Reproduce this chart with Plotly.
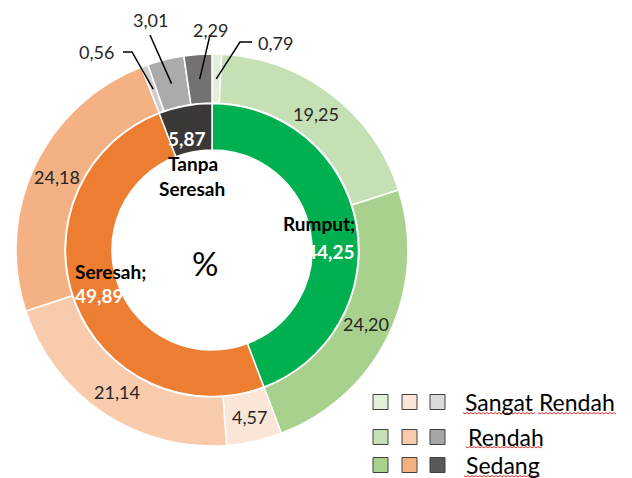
import plotly.graph_objects as go
import math

# ---- data ----
inner_labels = ["Rumput", "Seresah", "Tanpa Seresah"]
inner_values = [44.25, 49.89, 5.87]
inner_colors = ["#00B050", "#ED7D31", "#3B3838"]

outer_labels = ["Rumput - Sangat Rendah", "Rumput - Rendah", "Rumput - Sedang",
                "Seresah - Sangat Rendah", "Seresah - Rendah", "Seresah - Sedang",
                "Tanpa Seresah - Sangat Rendah", "Tanpa Seresah - Rendah", "Tanpa Seresah - Sedang"]
outer_values = [0.79, 19.25, 24.20, 4.57, 21.14, 24.18, 0.56, 3.01, 2.29]
outer_colors = ["#E2F0D9", "#C5E0B4", "#A9D18E",
                "#FBE5D6", "#F8CBAD", "#F4B183",
                "#D0CECE", "#AEAAAA", "#767171"]

legend_labels = ["Sangat Rendah", "Rendah", "Sedang"]
legend_colors = [["#E2F0D9", "#FBE5D6", "#D9D9D9"],
                 ["#C5E0B4", "#F8CBAD", "#A6A6A6"],
                 ["#A9D18E", "#F4B183", "#595959"]]

W, H = 632, 478
OFF = 8  # page body margin
CX, CY = 212, 250
R_OUT, R_MID, R_IN = 196, 146.5, 100

FONT = "Lato"


def px(x):
    return (x - OFF) / W


def py(y):
    return 1 - (y - OFF) / H


def fmt(v):
    return f"{v:.2f}".replace(".", ",")


fig = go.Figure()

fig.add_trace(go.Pie(
    values=outer_values, labels=outer_labels, sort=False, direction="clockwise",
    rotation=0, hole=(R_MID + 0.5) / R_OUT,
    marker=dict(colors=outer_colors, line=dict(color="white", width=1.5)),
    textinfo="none", hoverinfo="label+value",
    domain=dict(x=[px(CX - R_OUT), px(CX + R_OUT)], y=[py(CY + R_OUT), py(CY - R_OUT)]),
    showlegend=False,
))
fig.add_trace(go.Pie(
    values=inner_values, labels=inner_labels, sort=False, direction="clockwise",
    rotation=0, hole=R_IN / R_MID,
    marker=dict(colors=inner_colors, line=dict(color="white", width=1.5)),
    textinfo="none", hoverinfo="label+value",
    domain=dict(x=[px(CX - R_MID), px(CX + R_MID)], y=[py(CY + R_MID), py(CY - R_MID)]),
    showlegend=False,
))

annotations = []
shapes = []

# outer ring labels: mid-angle of each slice
total = sum(outer_values)
cum = 0
mids = []
for v in outer_values:
    mid = (cum + v / 2) / total * 2 * math.pi
    mids.append(mid)
    cum += v
r_lab = (R_OUT + R_MID) / 2


def polar(a, r):
    return CX + r * math.sin(a), CY - r * math.cos(a)


inside_idx = [1, 2, 3, 4, 5]
for i in inside_idx:
    x, y = polar(mids[i], r_lab)
    annotations.append(dict(x=px(x), y=py(y), text=fmt(outer_values[i]),
                            font=dict(family=FONT, size=18, color="#262626")))

# small slices with leader lines: (index, text centre, leader start, optional elbow)
callouts = [
    (0, (275, 43), [(252, 42), (240, 42)]),
    (6, (96, 52), [(123, 52), (132, 52)]),
    (7, (150, 20), [(150, 35)]),
    (8, (210, 30), [(210, 35)]),
]
for i, (tx, ty), pts in callouts:
    annotations.append(dict(x=px(tx), y=py(ty), text=fmt(outer_values[i]),
                            font=dict(family=FONT, size=18, color="#262626")))
    ex, ey = polar(mids[i], r_lab)
    allpts = pts + [(ex, ey)]
    path = "M " + " L ".join(f"{px(a)},{py(b)}" for a, b in allpts)
    shapes.append(dict(type="path", path=path, xref="paper", yref="paper",
                       line=dict(color="black", width=1.5)))

# inner labels
bold = dict(family=FONT, size=19, color="black")
wbold = dict(family=FONT, size=19, color="white")
annotations += [
    dict(x=px(357), y=py(223), text="<b>Rumput;</b>", xanchor="right", font=bold),
    dict(x=px(357), y=py(251), text=f"<b>{fmt(inner_values[0])}</b>", xanchor="right", font=wbold),
    dict(x=px(73), y=py(271), text="<b>Seresah;</b>", xanchor="left", font=bold),
    dict(x=px(73), y=py(295), text=f"<b>{fmt(inner_values[1])}</b>", xanchor="left", font=wbold),
    dict(x=px(208), y=py(139), text=f"<b>{fmt(inner_values[2])}</b>", xanchor="right", font=wbold),
    dict(x=px(193), y=py(163), text="<b>Tanpa</b>", font=bold),
    dict(x=px(192), y=py(188), text="<b>Seresah</b>", font=bold),
    dict(x=px(205), y=py(263), text="%", font=dict(family=FONT, size=33, color="black")),
]

# custom legend
row_y = [402, 437, 465]
col_x = [373, 402, 430]
sq = 15
text_x = [463, 466, 464]
for r, lab in enumerate(legend_labels):
    for c in range(3):
        x0 = col_x[c]
        y0 = row_y[r] - sq / 2
        shapes.append(dict(type="rect", xref="paper", yref="paper",
                           x0=px(x0), x1=px(x0 + sq), y0=py(y0 + sq), y1=py(y0),
                           fillcolor=legend_colors[r][c], line=dict(color="#404040", width=1)))
    annotations.append(dict(x=px(text_x[r]), y=py(row_y[r]),
                            text=lab, xanchor="left",
                            font=dict(family=FONT, size=23, color="black")))

for a in annotations:
    a.setdefault("xref", "paper")
    a.setdefault("yref", "paper")
    a.setdefault("showarrow", False)
    a.setdefault("xanchor", "center")
    a.setdefault("yanchor", "middle")

# spell-check squiggles under legend words
squiggles = [(463, 535, 413), (538, 617, 413), (466, 543, 447), (464, 540, 476)]
for x0, x1, yy in squiggles:
    pts = []
    x = x0
    k = 0
    while x <= x1:
        pts.append((x, yy + (1 if k % 2 else -0.5)))
        x += 2
        k += 1
    path = "M " + " L ".join(f"{px(a)},{py(b)}" for a, b in pts)
    shapes.append(dict(type="path", path=path, xref="paper", yref="paper",
                       line=dict(color="#E03030", width=1)))

fig.update_layout(
    width=W, height=H, margin=dict(l=0, r=0, t=0, b=0),
    paper_bgcolor="white", plot_bgcolor="white",
    annotations=annotations, shapes=shapes,
)

fig.write_html("out.html")
